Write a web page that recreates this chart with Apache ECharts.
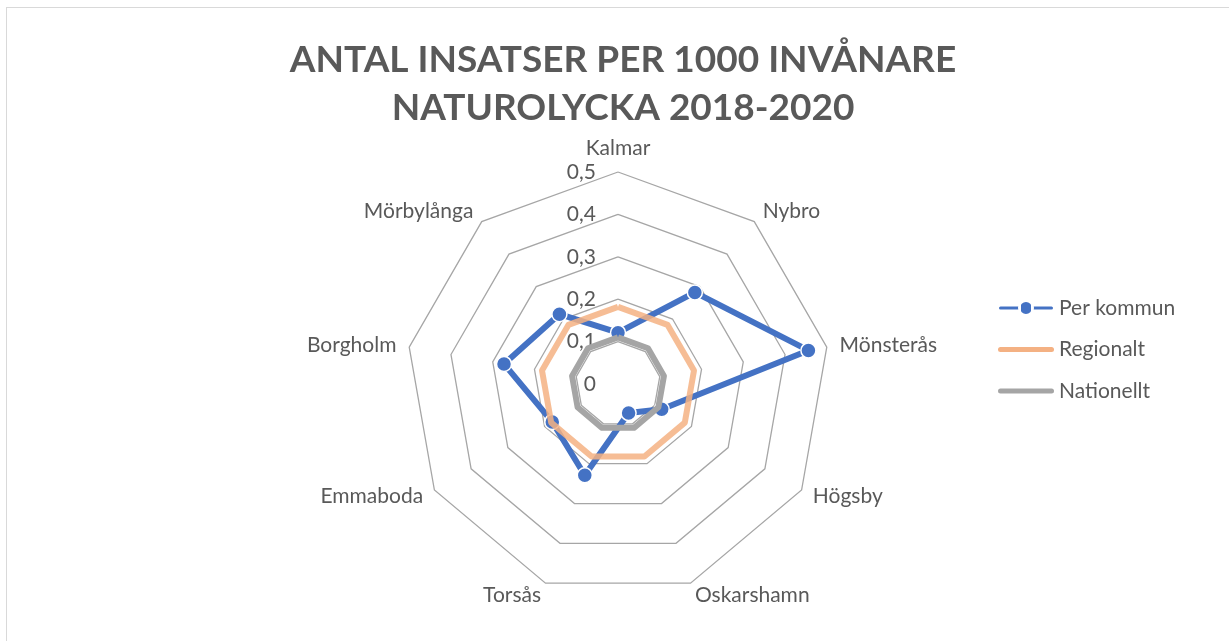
<!DOCTYPE html>
<html>
<head>
<meta charset="utf-8">
<script src="https://cdn.jsdelivr.net/npm/echarts@6/dist/echarts.min.js"></script>
<style>
html,body{margin:0;padding:0;background:#fff;overflow:hidden;}
#frame{position:absolute;left:6px;top:7px;width:1300px;height:700px;border:1px solid #d9d9d9;box-sizing:border-box;}
#chart{position:absolute;left:0;top:0;width:1229px;height:641px;}
</style>
</head>
<body>
<div id="frame"></div>
<div id="chart"></div>
<script>
const categories = ['Kalmar','Nybro','Mönsterås','Högsby','Oskarshamn','Torsås','Emmaboda','Borgholm','Mörbylånga'];
const perKommun = [0.121, 0.282, 0.456, 0.119, 0.073, 0.229, 0.179, 0.273, 0.215];
const regionalt = [0.182, 0.182, 0.182, 0.182, 0.182, 0.182, 0.182, 0.182, 0.182];
const nationellt = [0.11, 0.11, 0.11, 0.11, 0.11, 0.11, 0.11, 0.11, 0.11];
const ticks = [0, 0.1, 0.2, 0.3, 0.4, 0.5];
const seriesNames = ['Per kommun','Regionalt','Nationellt'];
const titleLines = ['ANTAL INSATSER PER 1000 INVÅNARE', 'NATUROLYCKA 2018-2020'];

// ECharts radar runs counter-clockwise; reorder so categories run clockwise
const n = categories.length;
const order = [0];
for (let i = n - 1; i >= 1; i--) order.push(i);
const reorder = arr => order.map(i => arr[i]);

const FONT = 'Lato';
const TXT = '#595959';
const chart = echarts.init(document.getElementById('chart'));
const center = [618, 384];
const radius = 212;
const lineIcon = 'path://M2.5,4.5 L53.5,4.5 A2.5,2.5 0 0,1 53.5,9.5 L2.5,9.5 A2.5,2.5 0 0,1 2.5,4.5 Z';
const markerIcon = 'path://M2.5,4.5 L22,4.5 L22,9.5 L2.5,9.5 A2.5,2.5 0 0,1 2.5,4.5 Z M34,4.5 L53.5,4.5 A2.5,2.5 0 0,1 53.5,9.5 L34,9.5 Z M21,7 A7,7 0 1,1 35,7 A7,7 0 1,1 21,7 Z';
chart.setOption({
  backgroundColor: 'transparent',
  title: {
    text: titleLines.join('\n'),
    left: 618, top: 31, textAlign: 'center',
    textStyle: {fontFamily: FONT, fontWeight: 'bold', fontSize: 37, color: TXT, lineHeight: 48}
  },
  legend: {
    orient: 'vertical', left: 997, top: 297, padding: 0, itemGap: 19.5, itemWidth: 56, itemHeight: 14,
    data: [
      {name: seriesNames[0], icon: markerIcon},
      {name: seriesNames[1], icon: lineIcon},
      {name: seriesNames[2], icon: lineIcon}
    ],
    textStyle: {fontFamily: FONT, fontSize: 21, lineHeight: 22, color: TXT}
  },
  radar: {
    center: center, radius: radius, startAngle: 90, shape: 'polygon', splitNumber: 5,
    indicator: reorder(categories).map(c => ({name: c, min: ticks[0], max: ticks[ticks.length-1]})),
    axisName: {fontFamily: FONT, fontSize: 21, color: TXT},
    nameGap: 13,
    axisLine: {show: false},
    splitLine: {lineStyle: {color: '#a6a6a6', width: 1.3}},
    splitArea: {show: false}
  },
  polar: {center: center, radius: radius},
  angleAxis: {type: 'value', startAngle: 90, show: false, min: 0, max: 360},
  radiusAxis: {
    type: 'value', min: ticks[0], max: ticks[ticks.length-1], interval: 0.1,
    axisLine: {show: false}, axisTick: {show: false}, splitLine: {show: false},
    axisLabel: {fontFamily: FONT, fontSize: 21, color: TXT, margin: 22,
      formatter: v => String(Math.round(v*10)/10).replace('.', ',')}
  },
  series: [
    {name: seriesNames[0], type: 'radar', z: 2, symbol: 'circle', symbolSize: 15,
      itemStyle: {color: '#4472C4', borderColor: '#fff', borderWidth: 1.5},
      lineStyle: {color: '#4472C4', width: 6},
      data: [{value: reorder(perKommun), name: seriesNames[0]}]},
    {name: seriesNames[1], type: 'radar', z: 3, symbol: 'none',
      itemStyle: {color: '#F4B183'},
      lineStyle: {color: '#F4B183', width: 6, opacity: 0.85},
      data: [{value: reorder(regionalt), name: seriesNames[1]}]},
    {name: seriesNames[2], type: 'radar', z: 4, symbol: 'none',
      itemStyle: {color: '#A5A5A5'},
      lineStyle: {color: '#A5A5A5', width: 6},
      data: [{value: reorder(nationellt), name: seriesNames[2]}]}
  ]
});
</script>
</body>
</html>
